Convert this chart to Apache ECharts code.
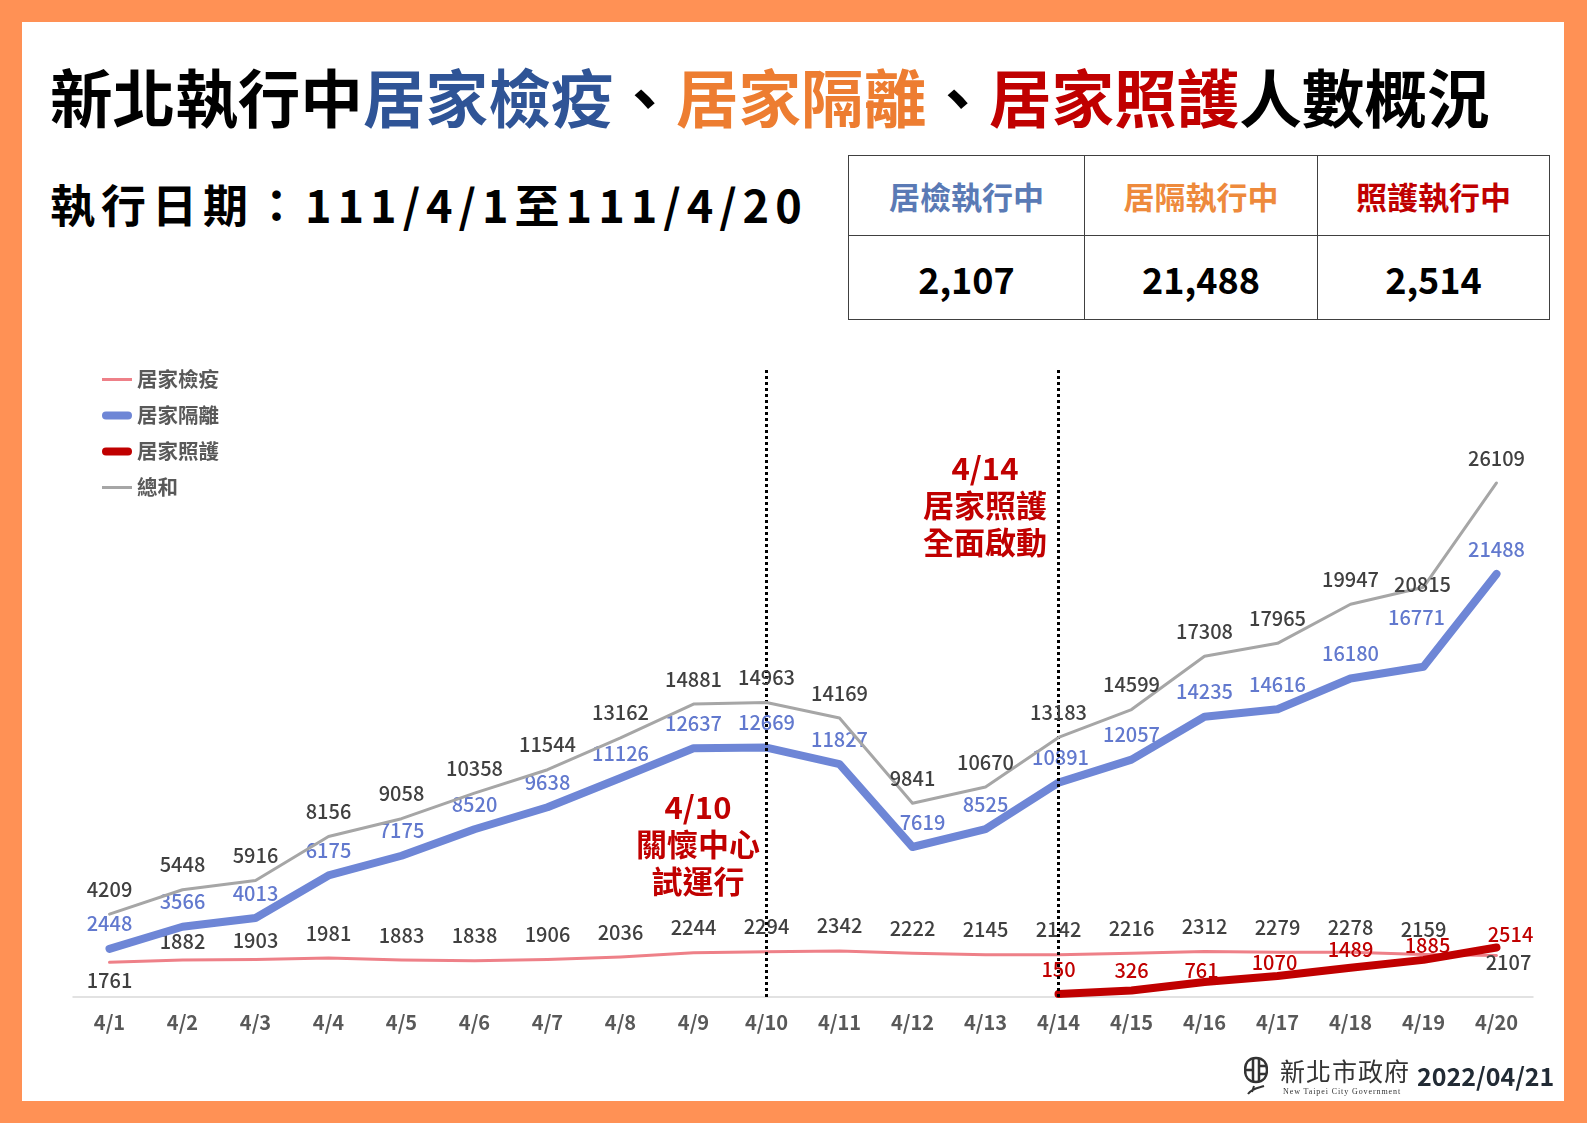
<!DOCTYPE html>
<html>
<head>
<meta charset="utf-8">
<script src="https://cdn.jsdelivr.net/npm/echarts@6/dist/echarts.min.js"></script>
<style>
  html, body { margin: 0; padding: 0; }
  body { width: 1587px; height: 1123px; background: #FF9155; position: relative; overflow: hidden;
         font-family: "Noto Sans CJK TC", "Noto Sans", sans-serif; }
  #panel { position: absolute; left: 22px; top: 22px; width: 1542px; height: 1079px; background: #fff; }
  #main { position: absolute; left: 0; top: 0; width: 1587px; height: 1123px; }
  .title { position: absolute; left: 50px; top: 64px; font-size: 62.6px; font-weight: bold; line-height: 1; color: #000; white-space: nowrap; }
  .sub { position: absolute; left: 50px; top: 181px; font-size: 45px; font-weight: bold; line-height: 1; letter-spacing: 6px; color: #000; white-space: nowrap; }
  table.box { position: absolute; left: 848px; top: 155px; border-collapse: collapse; }
  table.box td { border: 1.5px solid #404040; text-align: center; font-weight: bold; padding: 0; }
  table.box tr.h td { height: 79px; font-size: 31px; }
  table.box tr.v td { height: 83px; font-size: 36px; color: #000; }
  .foot { position: absolute; white-space: nowrap; }
</style>
</head>
<body>
<div id="panel"></div>
<div class="title">新北執行中<span style="color:#2F5496">居家檢疫</span>、<span style="color:#ED7D31">居家隔離</span>、<span style="color:#C00000">居家照護</span>人數概況</div>
<div class="sub">執行日期：111/4/1至111/4/20</div>
<table class="box">
  <tr class="h">
    <td style="width:235px;color:#5A7AB5">居檢執行中</td>
    <td style="width:232px;color:#EE8A3C">居隔執行中</td>
    <td style="width:231px;color:#C00000">照護執行中</td>
  </tr>
  <tr class="v"><td>2,107</td><td>21,488</td><td>2,514</td></tr>
</table>
<div id="main"></div>
<svg class="foot" style="left:1244px;top:1056px" width="24" height="40" viewBox="0 0 24 40">
  <path d="M12 2 C4 2 1 8 1 14 C1 20 4 26 12 26 C20 26 23 20 23 14 C23 8 20 2 12 2 Z" fill="none" stroke="#333" stroke-width="2.5"/>
  <path d="M9 3 L9 25 M15 3 L15 25 M1 14 L9 14 M15 10 L23 10 M15 18 L23 18" stroke="#333" stroke-width="2.5" fill="none"/>
  <path d="M4 38 C8 32 14 32 20 30 M10 30 L8 36" stroke="#333" stroke-width="2" fill="none"/>
</svg>
<div class="foot" style="left:1280px;top:1058px;font-size:25px;letter-spacing:1px;color:#333;line-height:1">新北市政府</div>
<div class="foot" style="left:1283px;top:1088px;font-size:8px;letter-spacing:0.9px;color:#333;font-family:'Liberation Serif',serif;line-height:1">New Taipei City Government</div>
<div class="foot" style="left:1417px;top:1063px;font-size:25px;font-weight:bold;color:#222B35;line-height:1">2022/04/21</div>
<script>
var dates = ['4/1', '4/2', '4/3', '4/4', '4/5', '4/6', '4/7', '4/8', '4/9', '4/10',
  '4/11', '4/12', '4/13', '4/14', '4/15', '4/16', '4/17', '4/18', '4/19', '4/20'];
// 居家檢疫
var quarantine = [1761, 1882, 1903, 1981, 1883, 1838, 1906, 2036, 2244, 2294,
  2342, 2222, 2145, 2142, 2216, 2312, 2279, 2278, 2159, 2107];
// 居家隔離
var isolation = [2448, 3566, 4013, 6175, 7175, 8520, 9638, 11126, 12637, 12669,
  11827, 7619, 8525, 10891, 12057, 14235, 14616, 16180, 16771, 21488];
// 居家照護 (from 4/14)
var homeCare = [null, null, null, null, null, null, null, null, null, null,
  null, null, null, 150, 326, 761, 1070, 1489, 1885, 2514];
// 總和
var totals = [4209, 5448, 5916, 8156, 9058, 10358, 11544, 13162, 14881, 14963,
  14169, 9841, 10670, 13183, 14599, 17308, 17965, 19947, 20815, 26109];

var FONT = '"Noto Sans CJK TC", "Noto Sans", sans-serif';
var FONT_MED = '"Noto Sans CJK TC Medium", "Noto Sans CJK TC", "Noto Sans", sans-serif';

// per-point label tweaks (label style only)
var quarantineLbl = {
  0: { position: 'bottom', distance: 8 },
  1: { offset: [0, 6] },
  2: { offset: [0, 6] },
  19: { position: 'inside', offset: [12, 7] }
};
var isolationLbl = {
  11: { offset: [10, 0] },
  13: { offset: [2, 0] },
  18: { position: 'inside', offset: [-7, -49] }
};
var homeCareLbl = {
  13: { offset: [0, 0] },
  14: { offset: [0, 5] },
  15: { offset: [-3, 13] },
  16: { offset: [-3, 11] },
  17: { offset: [0, 7] },
  18: { offset: [4, 11] },
  19: { offset: [14, 12] }
};
var totalsLbl = {
  18: { position: 'inside', offset: [-1, -3] }
};

function withLabels(values, tweaks) {
  return values.map(function (v, i) {
    if (v === null) return '-';
    return tweaks[i] ? { value: v, label: tweaks[i] } : v;
  });
}

var chart = echarts.init(document.getElementById('main'));

function lineSeries(name, values, tweaks, color, width, labelColor, extra) {
  var s = {
    name: name,
    type: 'line',
    data: withLabels(values, tweaks),
    color: color,
    symbol: 'circle',
    symbolSize: 0,
    showSymbol: true,
    showAllSymbol: true,
    lineStyle: { color: color, width: width, cap: 'round', join: 'round' },
    label: {
      show: true, position: 'top', distance: 15,
      color: labelColor, fontSize: 20, fontFamily: FONT_MED, fontWeight: 500
    },
    emphasis: { disabled: true },
    animation: false
  };
  for (var k in extra) s[k] = extra[k];
  return s;
}

var thinIcon = 'path://M0,0 L30,0 L30,3 L0,3 Z';
var thickIcon = 'path://M4,0 L26,0 A4,4 0 0 1 26,8 L4,8 A4,4 0 0 1 4,0 Z';

var option = {
  animation: false,
  legend: {
    orient: 'vertical',
    left: 97,
    top: 364,
    itemWidth: 30,
    itemHeight: 8,
    itemGap: 15,
    textStyle: { fontSize: 20.5, color: '#595959', fontFamily: FONT, fontWeight: 'bold', lineHeight: 21 },
    data: [
      { name: '居家檢疫', icon: thinIcon },
      { name: '居家隔離', icon: thickIcon },
      { name: '居家照護', icon: thickIcon },
      { name: '總和', icon: thinIcon }
    ]
  },
  grid: { left: 73, right: 54, top: 367, bottom: 126 },
  xAxis: {
    type: 'category',
    data: dates,
    axisLine: { lineStyle: { color: '#D9D9D9', width: 1.5 } },
    axisTick: { show: false },
    axisLabel: { fontSize: 20, color: '#595959', margin: 15, fontFamily: FONT, fontWeight: 'bold' }
  },
  yAxis: { type: 'value', min: 0, max: 32000, show: false, splitLine: { show: false } },
  series: [
    lineSeries('居家檢疫', quarantine, quarantineLbl, '#EE8088', 3, '#404040', { z: 2 }),
    lineSeries('居家隔離', isolation, isolationLbl, '#6E86D6', 8, '#6279CE', { z: 3 }),
    lineSeries('居家照護', homeCare, homeCareLbl, '#C00000', 8, '#C00000', { z: 4 }),
    lineSeries('總和', totals, totalsLbl, '#A6A6A6', 3, '#404040', {
      z: 5,
      markLine: {
        silent: true,
        symbol: 'none',
        label: { show: false },
        lineStyle: { color: '#000', width: 3, type: [3, 3] },
        data: [{ xAxis: '4/10' }, { xAxis: '4/14' }]
      }
    })
  ],
  graphic: [
    {
      type: 'text', x: 698, y: 844, z: 10,
      style: {
        text: '4/10\n關懷中心\n試運行', fill: '#C00000',
        fontSize: 31, fontWeight: 'bold', fontFamily: FONT,
        lineHeight: 37, align: 'center', verticalAlign: 'middle'
      }
    },
    {
      type: 'text', x: 985, y: 505, z: 10,
      style: {
        text: '4/14\n居家照護\n全面啟動', fill: '#C00000',
        fontSize: 31, fontWeight: 'bold', fontFamily: FONT,
        lineHeight: 37, align: 'center', verticalAlign: 'middle'
      }
    }
  ]
};

chart.setOption(option);
</script>
</body>
</html>
